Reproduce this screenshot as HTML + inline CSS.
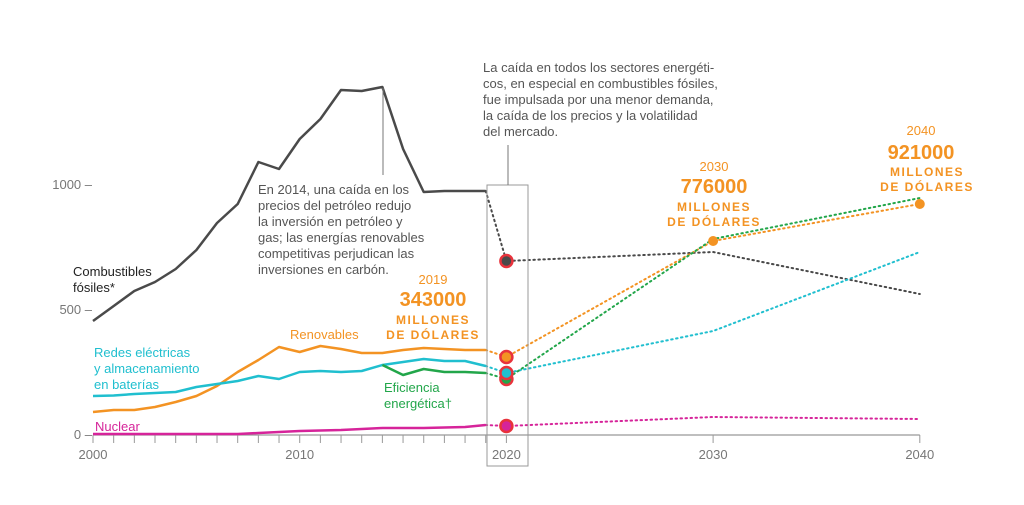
<!DOCTYPE html>
<html><head><meta charset="utf-8"><style>
body{margin:0;background:#fff;}
svg{display:block;font-family:"Liberation Sans",sans-serif;}
</style></head><body>
<svg id="chart" width="1024" height="505" viewBox="0 0 1024 505">
<g id="axes"></g>
<g id="marks"></g>
<g id="labels">
<rect x="487" y="185" width="41" height="281" fill="none" stroke="#999" stroke-width="1"/>
<line x1="508" y1="145" x2="508" y2="185" stroke="#777"/>
<line x1="383" y1="88" x2="383" y2="175" stroke="#777"/>
<text font-size="13" fill="#555">
<tspan x="483" y="72">La caída en todos los sectores energéti-</tspan>
<tspan x="483" y="88">cos, en especial en combustibles fósiles,</tspan>
<tspan x="483" y="104">fue impulsada por una menor demanda,</tspan>
<tspan x="483" y="120">la caída de los precios y la volatilidad</tspan>
<tspan x="483" y="136">del mercado.</tspan></text>
<text font-size="13" fill="#555">
<tspan x="258" y="194">En 2014, una caída en los</tspan>
<tspan x="258" y="210">precios del petróleo redujo</tspan>
<tspan x="258" y="226">la inversión en petróleo y</tspan>
<tspan x="258" y="242">gas; las energías renovables</tspan>
<tspan x="258" y="258">competitivas perjudican las</tspan>
<tspan x="258" y="274">inversiones en carbón.</tspan></text>
<text font-size="13" fill="#222"><tspan x="73" y="276">Combustibles</tspan><tspan x="73" y="292">fósiles*</tspan></text>
<text font-size="13" fill="#f39323" x="290" y="339">Renovables</text>
<text font-size="13" fill="#20bfcf"><tspan x="94" y="357">Redes eléctricas</tspan><tspan x="94" y="373">y almacenamiento</tspan><tspan x="94" y="389">en baterías</tspan></text>
<text font-size="13" fill="#22a64a"><tspan x="384" y="392">Eficiencia</tspan><tspan x="384" y="408">energética†</tspan></text>
<text font-size="13" fill="#d6249a" x="95" y="431">Nuclear</text>
<g fill="#f39323" text-anchor="middle">
<text x="433" y="284" font-size="13">2019</text>
<text x="433" y="306" font-size="20" font-weight="bold">343000</text>
<text x="433" y="324" font-size="12" font-weight="bold" letter-spacing="1.5">MILLONES</text>
<text x="433" y="339" font-size="12" font-weight="bold" letter-spacing="1.5">DE DÓLARES</text></g>
<g fill="#f39323" text-anchor="middle">
<text x="714" y="171" font-size="13">2030</text>
<text x="714" y="193" font-size="20" font-weight="bold">776000</text>
<text x="714" y="211" font-size="12" font-weight="bold" letter-spacing="1.5">MILLONES</text>
<text x="714" y="226" font-size="12" font-weight="bold" letter-spacing="1.5">DE DÓLARES</text></g>
<g fill="#f39323" text-anchor="middle">
<text x="921" y="135" font-size="13">2040</text>
<text x="921" y="159" font-size="20" font-weight="bold">921000</text>
<text x="927" y="176" font-size="12" font-weight="bold" letter-spacing="1.5">MILLONES</text>
<text x="927" y="191" font-size="12" font-weight="bold" letter-spacing="1.5">DE DÓLARES</text></g>
</g>
</svg>
<script>
const years = [2000,2001,2002,2003,2004,2005,2006,2007,2008,2009,2010,2011,2012,2013,2014,2015,2016,2017,2018,2019];
const fossil = [456,516,576,612,664,740,848,924,1092,1064,1184,1264,1380,1376,1392,1144,972,976,976,976];
const renewables = [92,100,100,112,132,156,196,252,300,352,332,356,344,328,328,340,348,344,340,340];
const grids = [156,158,164,168,172,192,204,216,236,224,252,256,252,256,280,292,304,296,296,276];
const effYears = [2014,2015,2016,2017,2018,2019];
const efficiency = [280,240,264,252,252,248];
const nuclear = [4,4,4,4,4,4,4,4,8,12,16,18,20,24,28,28,28,30,32,40];
const projYears = [2019,2020,2030,2040];
const fossilProj = [976,696,732,564];
const renewProj = [340,312,776,924];
const gridsProj = [276,248,416,732];
const effProj = [248,224,784,948];
const nuclearProj = [40,36,72,64];
const yTicks = [0,500,1000];
const xLabels = [2000,2010,2020,2030,2040];

const X = y => 93 + (y-2000)*20.67;
const Y = v => 435 - v*0.25;
const NS = 'http://www.w3.org/2000/svg';
function mk(tag, attrs, parent){const e=document.createElementNS(NS,tag);for(const k in attrs)e.setAttribute(k,attrs[k]);parent.appendChild(e);return e;}
const axes=document.getElementById('axes'), marks=document.getElementById('marks');

let ax=mk('line',{x1:X(2000),y1:435,x2:X(2040),y2:435,stroke:'#999','stroke-width':1.2},axes);


const tickYears=[];for(let y=2000;y<=2020;y++)tickYears.push(y);tickYears.push(2030,2040);
tickYears.forEach(y=>{const t=mk('line',{x1:X(y),y1:435,x2:X(y),y2:443,stroke:'#999'},axes);

});
xLabels.forEach(y=>{const t=mk('text',{x:X(y),y:459,'text-anchor':'middle','font-size':13,fill:'#777'},axes);t.textContent=y;

});
yTicks.forEach(v=>{const t=mk('text',{x:92,y:Y(v)+4,'text-anchor':'end','font-size':13,fill:'#777'},axes);t.textContent=v+' –';

});

function line(xs,vs,color,name,dotted){
 const d=xs.map((x,i)=>(i?'L':'M')+X(x).toFixed(1)+','+Y(vs[i]).toFixed(1)).join(' ');
 const p=mk('path',{d:d,fill:'none',stroke:color,'stroke-width':dotted?2:2.5,'stroke-linejoin':'round'},marks);
 if(dotted){p.setAttribute('stroke-dasharray','1.5 3.5');p.setAttribute('stroke-linecap','round');}
 
 
}
line(years,fossil,'#4a4a4a','line-fossil',false);
line(years,renewables,'#f39323','line-renewables',false);
line(years,grids,'#20bfcf','line-grids',false);
line(effYears,efficiency,'#22a64a','line-efficiency',false);
line(years,nuclear,'#d6249a','line-nuclear',false);
line(projYears,fossilProj,'#4a4a4a','projection-fossil',true);
line(projYears,renewProj,'#f39323','projection-renewables',true);
line(projYears,gridsProj,'#20bfcf','projection-grids',true);
line(projYears,effProj,'#22a64a','projection-efficiency',true);
line(projYears,nuclearProj,'#d6249a','projection-nuclear',true);

[[effProj,'#22a64a'],[gridsProj,'#20bfcf'],[renewProj,'#f39323'],[fossilProj,'#4a4a4a'],[nuclearProj,'#d6249a']].forEach(([arr,c])=>{
 const d=mk('circle',{cx:X(2020),cy:Y(arr[1]),r:6,fill:c,stroke:'#e8333c','stroke-width':2.5},marks);
 
 
});
[2,3].forEach(i=>{const d=mk('circle',{cx:X(projYears[i]),cy:Y(renewProj[i]),r:5,fill:'#f39323'},marks);
 
 });
</script>
</body></html>
